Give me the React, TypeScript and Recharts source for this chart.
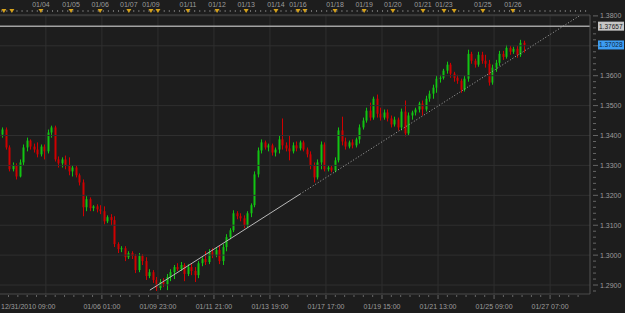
import { ComposedChart, Bar, XAxis, YAxis, ReferenceLine } from 'recharts'

// EUR/USD 2h candles, 12/31/2010 -> 01/26/2011
const opens = [
  1.3403, 1.3420, 1.3360, 1.3287, 1.3300, 1.3263, 1.3310, 1.3360, 1.3383, 1.3363,
  1.3353, 1.3337, 1.3363, 1.3347, 1.3410, 1.3427, 1.3320, 1.3307, 1.3320, 1.3300,
  1.3280, 1.3293, 1.3267, 1.3243, 1.3160, 1.3187, 1.3157, 1.3163, 1.3153, 1.3147,
  1.3113, 1.3127, 1.3117, 1.3037, 1.3020, 1.3023, 1.2993, 1.3007, 1.2997, 1.2950,
  1.2997, 1.2980, 1.2930, 1.2943, 1.2917, 1.2890, 1.2910, 1.2903, 1.2927, 1.2943,
  1.2960, 1.2953, 1.2967, 1.2937, 1.2960, 1.2947, 1.2933, 1.2973, 1.2987, 1.2977,
  1.3010, 1.3000, 1.3017, 1.2980, 1.3027, 1.3060, 1.3083, 1.3140, 1.3130, 1.3123,
  1.3100, 1.3140, 1.3167, 1.3270, 1.3350, 1.3377, 1.3360, 1.3367, 1.3343, 1.3353,
  1.3387, 1.3367, 1.3357, 1.3347, 1.3367, 1.3357, 1.3377, 1.3353, 1.3337, 1.3300,
  1.3260, 1.3310, 1.3370, 1.3287, 1.3293, 1.3283, 1.3317, 1.3417, 1.3380, 1.3363,
  1.3377, 1.3367, 1.3387, 1.3427, 1.3450, 1.3483, 1.3460, 1.3523, 1.3473, 1.3460,
  1.3477, 1.3457, 1.3437, 1.3453, 1.3427, 1.3480, 1.3407, 1.3467, 1.3477, 1.3487,
  1.3507, 1.3487, 1.3523, 1.3540, 1.3560, 1.3590, 1.3593, 1.3617, 1.3637, 1.3607,
  1.3593, 1.3583, 1.3553, 1.3590, 1.3673, 1.3650, 1.3637, 1.3670, 1.3650, 1.3640,
  1.3577, 1.3627, 1.3643, 1.3673, 1.3663, 1.3693, 1.3680, 1.3690, 1.3670, 1.3710,
]
const highs = [
  1.3427, 1.3427, 1.3367, 1.3310, 1.3307, 1.3320, 1.3370, 1.3393, 1.3387, 1.3373,
  1.3377, 1.3370, 1.3370, 1.3420, 1.3433, 1.3433, 1.3330, 1.3327, 1.3333, 1.3327,
  1.3300, 1.3300, 1.3273, 1.3253, 1.3197, 1.3193, 1.3167, 1.3170, 1.3167, 1.3163,
  1.3133, 1.3137, 1.3130, 1.3043, 1.3030, 1.3030, 1.3013, 1.3013, 1.3003, 1.3007,
  1.3003, 1.2993, 1.2953, 1.2950, 1.2927, 1.2920, 1.2923, 1.2937, 1.2953, 1.2967,
  1.2973, 1.2977, 1.2973, 1.2970, 1.2970, 1.2960, 1.2980, 1.2993, 1.3013, 1.3020,
  1.3023, 1.3027, 1.3033, 1.3037, 1.3070, 1.3090, 1.3150, 1.3147, 1.3140, 1.3133,
  1.3147, 1.3173, 1.3280, 1.3360, 1.3387, 1.3383, 1.3373, 1.3373, 1.3360, 1.3400,
  1.3457, 1.3377, 1.3400, 1.3377, 1.3380, 1.3383, 1.3383, 1.3360, 1.3347, 1.3310,
  1.3320, 1.3380, 1.3377, 1.3300, 1.3300, 1.3327, 1.3427, 1.3463, 1.3393, 1.3383,
  1.3387, 1.3393, 1.3437, 1.3460, 1.3493, 1.3510, 1.3530, 1.3537, 1.3493, 1.3487,
  1.3487, 1.3467, 1.3463, 1.3460, 1.3490, 1.3517, 1.3477, 1.3483, 1.3493, 1.3513,
  1.3517, 1.3533, 1.3550, 1.3570, 1.3600, 1.3603, 1.3623, 1.3647, 1.3643, 1.3613,
  1.3603, 1.3590, 1.3600, 1.3687, 1.3680, 1.3657, 1.3680, 1.3680, 1.3670, 1.3653,
  1.3637, 1.3653, 1.3683, 1.3683, 1.3703, 1.3700, 1.3697, 1.3700, 1.3720, 1.3717,
]
const lows = [
  1.3393, 1.3353, 1.3280, 1.3280, 1.3253, 1.3260, 1.3300, 1.3347, 1.3353, 1.3343,
  1.3327, 1.3330, 1.3320, 1.3340, 1.3393, 1.3313, 1.3293, 1.3293, 1.3287, 1.3267,
  1.3263, 1.3260, 1.3233, 1.3130, 1.3147, 1.3147, 1.3147, 1.3143, 1.3137, 1.3103,
  1.3107, 1.3100, 1.3027, 1.3007, 1.3010, 1.2980, 1.2987, 1.2987, 1.2940, 1.2943,
  1.2967, 1.2917, 1.2923, 1.2907, 1.2880, 1.2883, 1.2893, 1.2883, 1.2913, 1.2920,
  1.2947, 1.2947, 1.2913, 1.2930, 1.2933, 1.2910, 1.2923, 1.2963, 1.2967, 1.2970,
  1.2990, 1.2993, 1.2970, 1.2967, 1.3013, 1.3053, 1.3077, 1.3120, 1.3113, 1.3090,
  1.3093, 1.3127, 1.3160, 1.3260, 1.3340, 1.3353, 1.3347, 1.3333, 1.3330, 1.3340,
  1.3353, 1.3347, 1.3317, 1.3340, 1.3347, 1.3350, 1.3347, 1.3327, 1.3287, 1.3243,
  1.3253, 1.3287, 1.3280, 1.3280, 1.3277, 1.3277, 1.3310, 1.3367, 1.3353, 1.3357,
  1.3357, 1.3360, 1.3373, 1.3420, 1.3443, 1.3450, 1.3453, 1.3460, 1.3450, 1.3453,
  1.3447, 1.3427, 1.3430, 1.3417, 1.3417, 1.3397, 1.3400, 1.3453, 1.3467, 1.3477,
  1.3467, 1.3480, 1.3513, 1.3523, 1.3543, 1.3577, 1.3587, 1.3607, 1.3593, 1.3580,
  1.3573, 1.3543, 1.3547, 1.3580, 1.3640, 1.3627, 1.3630, 1.3640, 1.3627, 1.3567,
  1.3570, 1.3613, 1.3633, 1.3653, 1.3657, 1.3670, 1.3673, 1.3660, 1.3663, 1.3677,
]
const closes = [
  1.3420, 1.3360, 1.3287, 1.3300, 1.3263, 1.3310, 1.3360, 1.3383, 1.3363, 1.3353,
  1.3337, 1.3363, 1.3347, 1.3410, 1.3427, 1.3320, 1.3307, 1.3320, 1.3300, 1.3280,
  1.3293, 1.3267, 1.3243, 1.3160, 1.3187, 1.3157, 1.3163, 1.3153, 1.3147, 1.3113,
  1.3127, 1.3117, 1.3037, 1.3020, 1.3023, 1.2993, 1.3007, 1.2997, 1.2950, 1.2997,
  1.2980, 1.2930, 1.2943, 1.2917, 1.2890, 1.2910, 1.2903, 1.2927, 1.2943, 1.2960,
  1.2953, 1.2967, 1.2937, 1.2960, 1.2947, 1.2933, 1.2973, 1.2987, 1.2977, 1.3010,
  1.3000, 1.3017, 1.2980, 1.3027, 1.3060, 1.3083, 1.3140, 1.3130, 1.3123, 1.3100,
  1.3140, 1.3167, 1.3270, 1.3350, 1.3377, 1.3360, 1.3367, 1.3343, 1.3353, 1.3387,
  1.3367, 1.3357, 1.3347, 1.3367, 1.3357, 1.3377, 1.3353, 1.3337, 1.3300, 1.3260,
  1.3310, 1.3370, 1.3287, 1.3293, 1.3283, 1.3317, 1.3417, 1.3380, 1.3363, 1.3377,
  1.3367, 1.3387, 1.3427, 1.3450, 1.3483, 1.3460, 1.3523, 1.3473, 1.3460, 1.3477,
  1.3457, 1.3437, 1.3453, 1.3427, 1.3480, 1.3407, 1.3467, 1.3477, 1.3487, 1.3507,
  1.3487, 1.3523, 1.3540, 1.3560, 1.3590, 1.3593, 1.3617, 1.3637, 1.3607, 1.3593,
  1.3583, 1.3553, 1.3590, 1.3673, 1.3650, 1.3637, 1.3670, 1.3650, 1.3640, 1.3577,
  1.3627, 1.3643, 1.3673, 1.3663, 1.3693, 1.3680, 1.3690, 1.3670, 1.3710, 1.3703,
]

// top date strip (bar index positions)
const topDates = ['01/04', '01/05', '01/06', '01/07', '01/09', '01/11', '01/12', '01/13', '01/14', '01/16',
  '01/18', '01/19', '01/20', '01/21', '01/23', '01/25', '01/26']
const topDatePos = [11.2, 19.8, 28.1, 36.3, 42.6, 53.2, 61.5, 69.8, 78.3, 84.6,
  95.2, 103.5, 111.7, 120.3, 126.3, 137.4, 146.0]
const markerPos = [0.6, 2.9, 44.6, 86.6, 129.2]

// bottom time axis
const bottomLabels = ['12/31/2010 09:00', '01/06 01:00', '01/09 23:00', '01/11 21:00', '01/13 19:00',
  '01/17 17:00', '01/19 15:00', '01/21 13:00', '01/25 09:00', '01/27 07:00']
const bottomPos = [0, 28.6, 44.6, 60.6, 76.6, 92.6, 108.6, 124.6, 140.6, 156.6]
const gridX = [12.6, 28.6, 44.6, 60.6, 76.6, 92.6, 108.6, 124.6, 140.6, 156.6]
const gridY = [1.29, 1.30, 1.31, 1.32, 1.33, 1.34, 1.35, 1.36, 1.37, 1.38]

// trend line and price tags
const trendSolid = [{ x: 42.3, y: 1.2883 }, { x: 85.2, y: 1.3204 }]
const trendDotted = [{ x: 85.2, y: 1.3204 }, { x: 165.2, y: 1.3802 }]
const levelLine = 1.37657
const lastPrice = 1.37028

const X_DOMAIN: [number, number] = [-0.5, 168]
const Y_DOMAIN: [number, number] = [1.287, 1.3803]
const FONT = 'Liberation Sans, Arial, sans-serif'
const TXT = '#9c9c9c'

const candles = closes.map((c, i) => ({
  i, open: opens[i], high: highs[i], low: lows[i], close: c, range: [lows[i], highs[i]],
}))

const near = (a: number, b: number, eps = 1e-6) => Math.abs(a - b) < eps

const minor = (from: number, to: number, step: number) => {
  const out: number[] = []
  for (let v = from; v <= to; v += step) out.push(+v.toFixed(3))
  return out
}
const topMain = [...topDatePos, ...markerPos]
const topTicks = [...minor(0, 167, 1.45).filter(v => !topMain.some(p => near(p, v, 0.4))), ...topMain]
  .sort((a, b) => a - b)
const bottomTicks = [...minor(1.93, 167, 16 / 6).filter(v => !bottomPos.some(p => near(p, v, 0.4))), ...bottomPos]
  .sort((a, b) => a - b)
const priceTicks = minor(1.288, 1.3801, 0.002)

const Candle = (props: any) => {
  const { x, y, width, height, payload } = props
  if (!payload) return null
  const { open, close, high, low } = payload
  const top = Math.min(y, y + height)
  const h = Math.abs(height)
  const k = high === low ? 0 : h / (high - low)
  const yo = top + (high - open) * k
  const yc = top + (high - close) * k
  const color = close >= open ? '#12c412' : '#d00000'
  const cx = Math.round(x + width / 2)
  return (
    <g>
      <rect x={cx} y={top} width={1} height={Math.max(1, h)} fill={color} />
      <rect x={cx - 0.5} y={Math.min(yo, yc)} width={2} height={Math.max(1, Math.abs(yo - yc))} fill={color} />
    </g>
  )
}

const TopTick = ({ x, y, payload }: any) => {
  const v = payload.value
  const li = topDatePos.findIndex(p => near(p, v))
  const isMarker = li >= 0 || markerPos.some(p => near(p, v))
  return (
    <g>
      {li >= 0 && (
        <text x={x} y={y - 8} textAnchor="middle" fontSize={7} fontFamily={FONT} fill={TXT}>{topDates[li]}</text>
      )}
      {isMarker ? (
        <path d={`M${x - 2.5},${y - 6} L${x + 2.5},${y - 6} L${x},${y - 2} Z`} fill="#d6a21c" />
      ) : (
        <line x1={x} x2={x} y1={y - 5} y2={y - 3} stroke="#707070" />
      )}
    </g>
  )
}

const BottomTick = ({ x, y, payload }: any) => {
  const v = payload.value
  const li = bottomPos.findIndex(p => near(p, v))
  const first = li === 0
  return (
    <g>
      {!first && <line x1={x} x2={x} y1={y + 1} y2={y + (li >= 0 ? 5 : 3)} stroke="#666" />}
      {li >= 0 && (
        <text x={first ? 1 : x} y={y + 15} textAnchor={first ? 'start' : 'middle'} fontSize={7}
          fontFamily={FONT} fill={TXT}>{bottomLabels[li]}</text>
      )}
    </g>
  )
}

const PriceTick = ({ x, y, payload }: any) => {
  const v = payload.value
  const major = near(v * 100, Math.round(v * 100), 1e-4)
  const covered = [levelLine, lastPrice].some(t => Math.abs(t - v) < 0.0015)
  return (
    <g>
      <line x1={x + 3} x2={x + (major ? 8 : 6)} y1={y} y2={y} stroke="#666" />
      {major && !covered && (
        <text x={x + 10} y={y + 2.5} fontSize={7} fontFamily={FONT} fill={TXT}>{v.toFixed(4)}</text>
      )}
    </g>
  )
}

const PriceTag = ({ viewBox, text, bg, fg }: any) => {
  if (!viewBox) return null
  const x = viewBox.x + viewBox.width + 8
  const y = viewBox.y
  return (
    <g>
      <rect x={x} y={y - 4.5} width={26} height={9} fill={bg} />
      <text x={x + 1} y={y + 2.5} fontSize={6.5} fontFamily={FONT} fill={fg}>{text}</text>
    </g>
  )
}

export default function App() {
  return (
    <div style={{ position: 'fixed', left: 0, top: 0, width: 625, height: 313, background: '#1d1d1d' }}>
      <ComposedChart width={625} height={313} data={candles} margin={{ top: 0, right: 0, bottom: 0, left: 0 }}>
        <XAxis
          dataKey="i" type="number" domain={X_DOMAIN} allowDataOverflow ticks={bottomTicks} interval={0}
          height={19} tickSize={0} tickMargin={0} tickLine={false} axisLine={{ stroke: '#4a4a4a' }} tick={<BottomTick />}
        />
        <XAxis
          xAxisId="top" orientation="top" dataKey="i" type="number" domain={X_DOMAIN} allowDataOverflow
          ticks={topTicks} interval={0} height={15} tickSize={0} tickMargin={0} tickLine={false}
          axisLine={{ stroke: '#4a4a4a' }} tick={<TopTick />}
        />
        <YAxis
          orientation="right" type="number" domain={Y_DOMAIN} allowDataOverflow ticks={priceTicks} interval={0}
          width={35} tickSize={0} tickMargin={0} tickLine={false} axisLine={{ stroke: '#555' }} tick={<PriceTick />}
        />
        {gridX.map(v => (
          <ReferenceLine key={'gx' + v} x={v} stroke="#2f2f2f" />
        ))}
        {gridY.map(v => (
          <ReferenceLine key={'gy' + v} y={v} stroke="#2f2f2f" />
        ))}
        <ReferenceLine
          y={levelLine} stroke="#a2a2a2" strokeWidth={1.5}
          label={<PriceTag text={levelLine.toFixed(5)} bg="#c6c6c6" fg="#1a1a1a" />}
        />
        <ReferenceLine
          y={lastPrice} stroke="none" strokeOpacity={0}
          label={<PriceTag text={lastPrice.toFixed(5)} bg="#3d9df2" fg="#0c2440" />}
        />
        <Bar dataKey="range" isAnimationActive={false} barSize={2} shape={(p: any) => <Candle {...p} />} />
        <ReferenceLine segment={trendSolid} stroke="#b8b8b8" strokeWidth={1} />
        <ReferenceLine segment={trendDotted} stroke="#a8a8a8" strokeWidth={1} strokeDasharray="1 2" />
      </ComposedChart>
    </div>
  )
}
